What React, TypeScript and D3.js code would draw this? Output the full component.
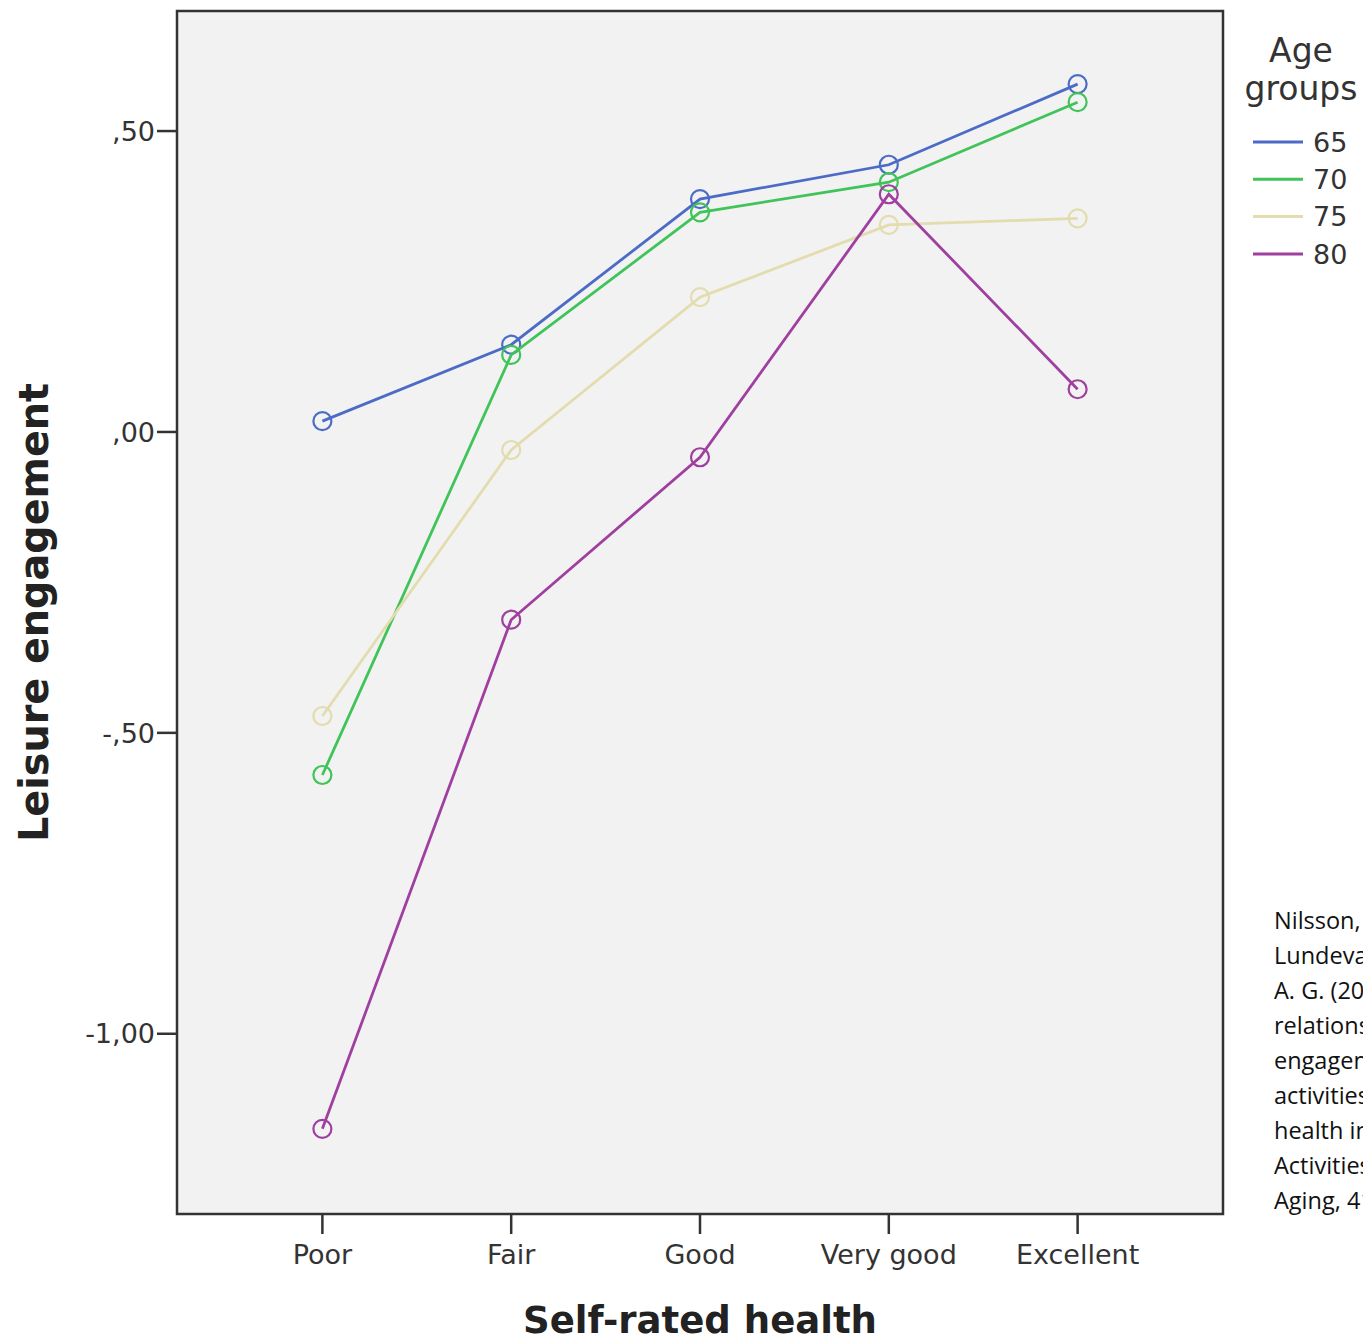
import React from 'react';
import * as d3 from 'd3';

// categories and series
const categories = ['Poor', 'Fair', 'Good', 'Very good', 'Excellent'];
const ageGroups = ['65', '70', '75', '80'];
const age65 = [0.018, 0.145, 0.387, 0.444, 0.578];
const age70 = [-0.57, 0.128, 0.365, 0.415, 0.548];
const age75 = [-0.472, -0.03, 0.224, 0.344, 0.355];
const age80 = [-1.158, -0.312, -0.042, 0.395, 0.071];
const yTicks = [0.5, 0, -0.5, -1];
const yTickLabels = [',50', ',00', '-,50', '-1,00'];
const citation = [
  'Nilsson, I.,',
  'Lundevaller, E. H., & Fisher,',
  'A. G. (2017). The',
  'relationship between',
  'engagement in leisure',
  'activities and self-rated',
  'health in later life.',
  'Activities, Adaptation &',
  'Aging, 41(2), 175-190.',
];

const colors = ['#4b6bc6', '#40c45a', '#e2dcae', '#9f3f9f'];
const series = [age65, age70, age75, age80];

const W = 1363;
const H = 1342;
const plot = { left: 177, top: 11, right: 1223, bottom: 1214 };

export default function App() {
  const x = d3
    .scalePoint<string>()
    .domain(categories)
    .range([plot.left, plot.right])
    .padding(0.77);
  const y = d3.scaleLinear().domain([-1.2995, 0.6995]).range([plot.bottom, plot.top]);

  const line = d3
    .line<number>()
    .x((d, i) => x(categories[i]) as number)
    .y(d => y(d));

  const tickFont = "'DejaVu Sans', sans-serif";
  const axisColor = '#333';

  return (
    <svg
      width={W}
      height={H}
      style={{ position: 'absolute', left: 0, top: 0, background: '#fff' }}
    >
      {/* plot area */}
      <rect
        x={plot.left}
        y={plot.top}
        width={plot.right - plot.left}
        height={plot.bottom - plot.top}
        fill="#f2f2f2"
        stroke={axisColor}
        strokeWidth={2.5}
      />

      {/* y axis ticks */}
      {yTicks.map((t, i) => (
        <g key={t}>
          <line x1={plot.left - 20} x2={plot.left} y1={y(t)} y2={y(t)} stroke={axisColor} strokeWidth={2.5} />
          <text
            x={plot.left - 22}
            y={y(t)}
            dy="0.36em"
            textAnchor="end"
            fontFamily={tickFont}
            fontSize={27}
            fill="#333"
          >
            {yTickLabels[i]}
          </text>
        </g>
      ))}

      {/* x axis ticks */}
      {categories.map(c => (
        <g key={c}>
          <line x1={x(c)} x2={x(c)} y1={plot.bottom} y2={plot.bottom + 20} stroke={axisColor} strokeWidth={2.5} />
          <text
            x={x(c)}
            y={plot.bottom + 50}
            textAnchor="middle"
            fontFamily={tickFont}
            fontSize={27}
            fill="#333"
          >
            {c}
          </text>
        </g>
      ))}

      {/* axis titles */}
      <text
        x={700}
        y={1333}
        textAnchor="middle"
        fontFamily={tickFont}
        fontWeight="bold"
        fontSize={37}
        fill="#222"
        textLength={354}
        lengthAdjust="spacingAndGlyphs"
      >
        Self-rated health
      </text>
      <text
        transform={`translate(48, ${(383 + 842) / 2}) rotate(-90)`}
        textAnchor="middle"
        fontFamily={tickFont}
        fontWeight="bold"
        fontSize={40}
        fill="#222"
        textLength={459}
        lengthAdjust="spacingAndGlyphs"
      >
        Leisure engagement
      </text>

      {/* series */}
      {series.map((s, si) => (
        <g key={ageGroups[si]}>
          <path d={line(s) || ''} fill="none" stroke={colors[si]} strokeWidth={2.8} />
          {s.map((v, i) => (
            <circle
              key={i}
              cx={x(categories[i])}
              cy={y(v)}
              r={9}
              fill="none"
              stroke={colors[si]}
              strokeWidth={2.2}
            />
          ))}
        </g>
      ))}

      {/* legend */}
      <text x={1301} y={62} textAnchor="middle" fontFamily={tickFont} fontSize={33} fill="#333">
        Age
      </text>
      <text x={1301} y={100} textAnchor="middle" fontFamily={tickFont} fontSize={33} fill="#333">
        groups
      </text>
      {ageGroups.map((g, i) => {
        const ly = 142 + i * 37.3;
        return (
          <g key={g}>
            <line x1={1253} x2={1303} y1={ly} y2={ly} stroke={colors[i]} strokeWidth={3} />
            <text x={1313} y={ly} dy="0.36em" fontFamily={tickFont} fontSize={27} fill="#333">
              {g}
            </text>
          </g>
        );
      })}

      {/* citation (cut at the right edge, as in the source image) */}
      {citation.map((l, i) => (
        <text
          key={i}
          x={1274}
          y={929 + i * 35}
          fontFamily="'Open Sans', sans-serif"
          fontSize={23.5}
          fill="#111"
        >
          {l}
        </text>
      ))}
    </svg>
  );
}
